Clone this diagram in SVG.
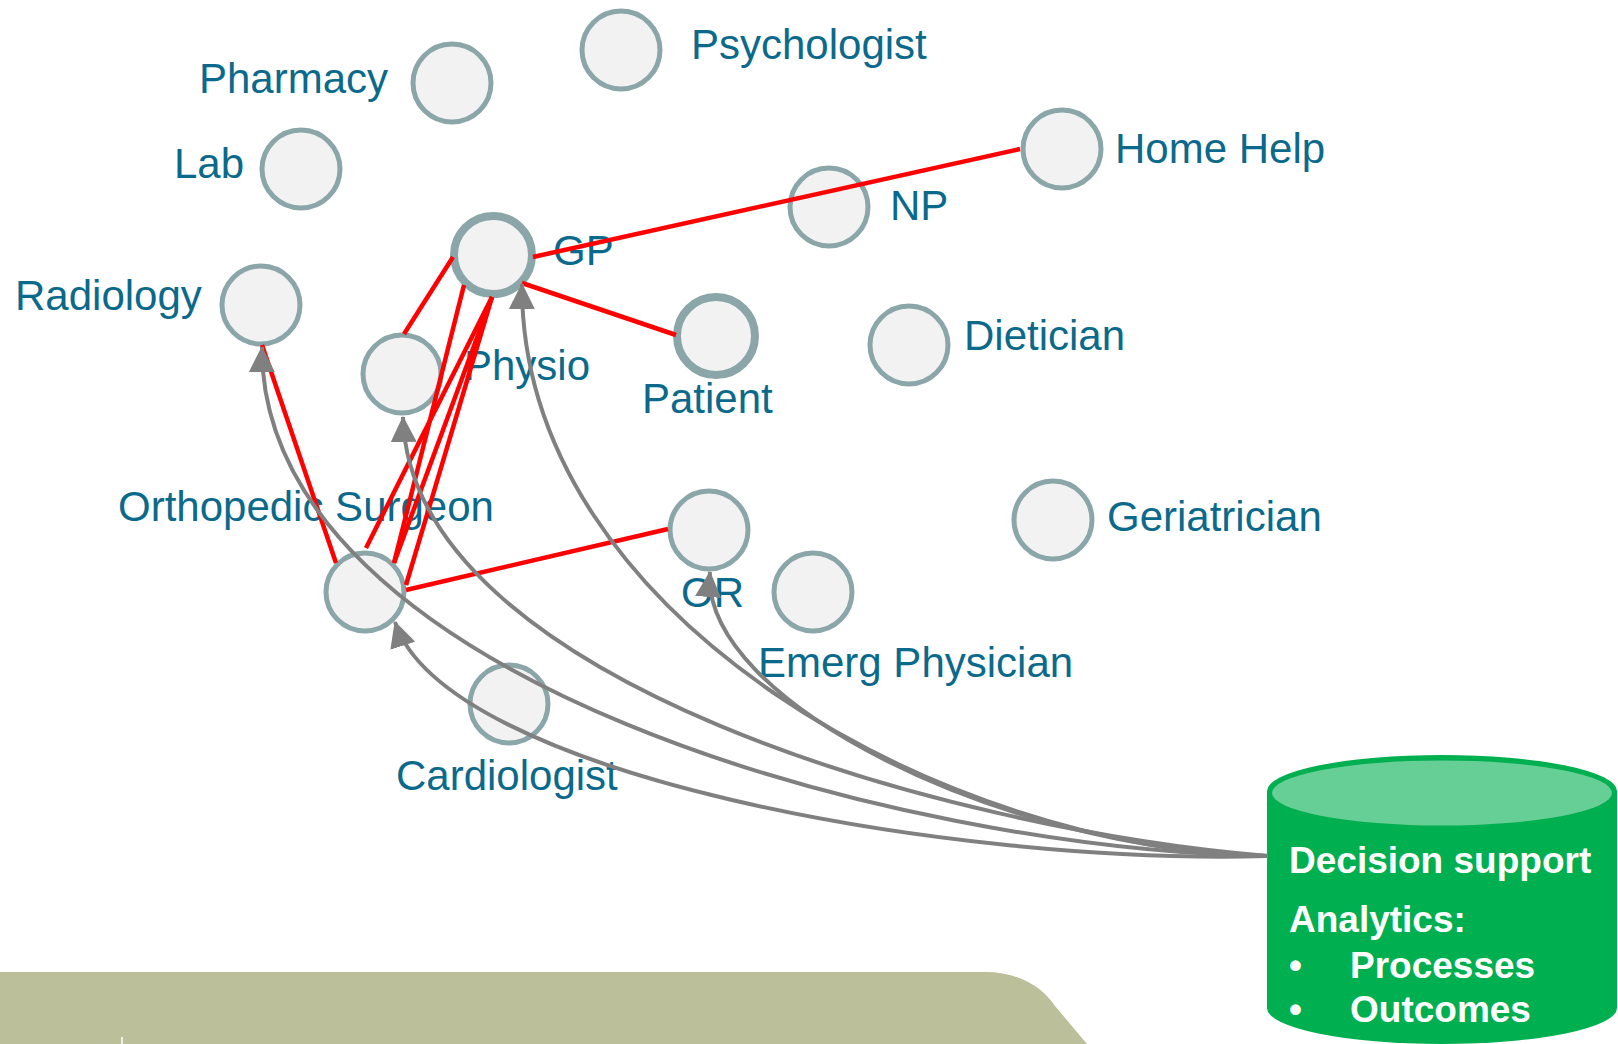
<svg xmlns="http://www.w3.org/2000/svg" width="1618" height="1044" viewBox="0 0 1618 1044">
<style>
.node circle{fill:#F2F2F2;stroke:#8BA6A9;stroke-width:5}
.node circle.thick{stroke-width:8}
.lbl{font-family:"Liberation Sans",Arial,sans-serif;font-size:42px;fill:#0B6A8B}
.red{stroke:#FF0000;stroke-width:4.5;fill:none}
.gray{stroke:#808080;stroke-width:4;fill:none;marker-end:url(#arr)}
.db{font-family:"Liberation Sans",Arial,sans-serif;font-size:37px;font-weight:bold;fill:#FFFFFF}
</style>
<defs>
<marker id="arr" markerUnits="userSpaceOnUse" markerWidth="26" markerHeight="26" viewBox="0 0 26 26" refX="25" refY="13" orient="auto">
<path d="M0,0 L26,13 L0,26 Z" fill="#808080"/>
</marker>
</defs>
<rect width="1618" height="1044" fill="#FFFFFF"/>
<g id="background-band">
<path d="M0,972 H985 C1020,972 1043,988 1055,1006 L1087,1044 H0 Z" fill="#BBBF9A"/>
<line x1="122" y1="1037" x2="122" y2="1044" stroke="#FFFFFF" stroke-width="1.5"/>
</g>
<g id="node-psychologist" class="node"><circle cx="621" cy="50" r="39"/><text class="lbl" x="691" y="59">Psychologist</text></g>
<g id="node-pharmacy" class="node"><circle cx="452" cy="83" r="39"/><text class="lbl" x="199" y="93">Pharmacy</text></g>
<g id="node-lab" class="node"><circle cx="301" cy="169" r="39"/><text class="lbl" x="174" y="178">Lab</text></g>
<g id="node-gp" class="node"><circle class="thick" cx="493" cy="255" r="39"/><text class="lbl" x="553" y="265">GP</text></g>
<g id="node-radiology" class="node"><circle cx="261" cy="305" r="39"/><text class="lbl" x="15" y="310">Radiology</text></g>
<g id="node-physio" class="node"><circle cx="402" cy="374" r="39"/><text class="lbl" x="464" y="380">Physio</text></g>
<g id="node-patient" class="node"><circle class="thick" cx="716" cy="336" r="39"/><text class="lbl" x="642" y="413">Patient</text></g>
<g id="node-np" class="node"><circle cx="829" cy="207" r="39"/><text class="lbl" x="890" y="220">NP</text></g>
<g id="node-homehelp" class="node"><circle cx="1062" cy="149" r="39"/><text class="lbl" x="1115" y="163">Home Help</text></g>
<g id="node-dietician" class="node"><circle cx="909" cy="345" r="39"/><text class="lbl" x="964" y="350">Dietician</text></g>
<g id="node-ortho" class="node"><circle cx="365" cy="592" r="39"/><text class="lbl" x="118" y="521">Orthopedic Surgeon</text></g>
<g id="node-or" class="node"><circle cx="709" cy="530" r="39"/><text class="lbl" x="681" y="607">OR</text></g>
<g id="node-emerg" class="node"><circle cx="813" cy="592" r="39"/><text class="lbl" x="758" y="677">Emerg Physician</text></g>
<g id="node-geriatrician" class="node"><circle cx="1053" cy="520" r="39"/><text class="lbl" x="1107" y="531">Geriatrician</text></g>
<g id="node-cardiologist" class="node"><circle cx="509" cy="704" r="39"/><text class="lbl" x="396" y="790">Cardiologist</text></g>
<g id="node-decision-support">
<path d="M1267,791 L1267,1008 A175,36 0 0 0 1617,1008 L1617,791 A175,36 0 0 0 1267,791 Z" fill="#00AF50"/>
<ellipse cx="1442" cy="793" rx="170" ry="32.5" fill="#66CF96"/>
<text class="db" x="1289" y="873">Decision support</text>
<text class="db" x="1289" y="932">Analytics:</text>
<text class="db" x="1289" y="978">•</text><text class="db" x="1350" y="978">Processes</text>
<text class="db" x="1289" y="1022">•</text><text class="db" x="1350" y="1022">Outcomes</text>
</g>
<g id="connectors">
<line class="red" x1="533" y1="257" x2="1020" y2="149"/>
<line class="red" x1="522" y1="283" x2="676" y2="335"/>
<line class="red" x1="453" y1="257" x2="404" y2="334"/>
<line class="red" x1="262" y1="345" x2="336" y2="563"/>
<line class="red" x1="464" y1="285" x2="394" y2="563"/>
<line class="red" x1="492" y1="297" x2="366" y2="548"/>
<line class="red" x1="492" y1="297" x2="394" y2="563"/>
<line class="red" x1="492" y1="297" x2="406" y2="585"/>
<line class="red" x1="406" y1="590" x2="668" y2="529"/>
<path class="gray" d="M1268,856 C900,850 260,680 262,347"/>
<path class="gray" d="M1268,856 C950,830 410,680 403,417"/>
<path class="gray" d="M1268,856 C950,850 520,620 522,284"/>
<path class="gray" d="M1268,856 C1000,850 700,700 710,572"/>
<path class="gray" d="M1268,856 C950,865 445,775 395,622"/>
</g>
</svg>
